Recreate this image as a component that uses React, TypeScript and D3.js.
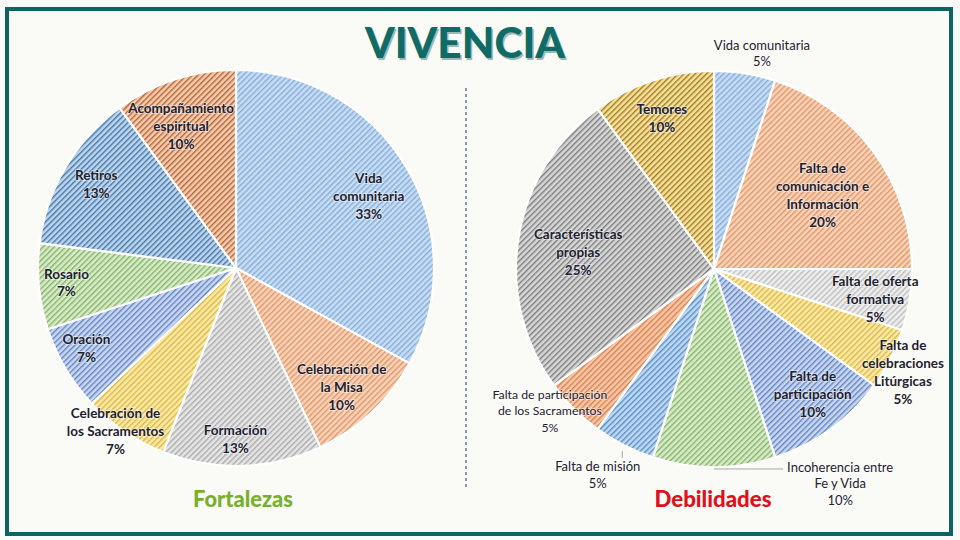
import React from "react";
import * as d3 from "d3";

// Fortalezas (left pie), clockwise from 12 o'clock
const leftLabels = [
  ["Vida", "comunitaria", "33%"],
  ["Celebración de", "la Misa", "10%"],
  ["Formación", "13%"],
  ["Celebración de", "los Sacramentos", "7%"],
  ["Oración", "7%"],
  ["Rosario", "7%"],
  ["Retiros", "13%"],
  ["Acompañamiento", "espiritual", "10%"],
];
const leftValues = [33, 10, 13, 7, 7, 7, 13, 10];

// Debilidades (right pie), clockwise from 12 o'clock
const rightLabels = [
  ["Vida comunitaria", "5%"],
  ["Falta de", "comunicación e", "Información", "20%"],
  ["Falta de oferta", "formativa", "5%"],
  ["Falta de", "celebraciones", "Litúrgicas", "5%"],
  ["Falta de", "participación", "10%"],
  ["Incoherencia entre", "Fe y Vida", "10%"],
  ["Falta de misión", "5%"],
  ["Falta de participación", "de los Sacramentos", "5%"],
  ["Características", "propias", "25%"],
  ["Temores", "10%"],
];
const rightValues = [5, 20, 5, 5, 10, 10, 5, 5, 25, 10];

// hatch colours [background, stripe]
const C = {
  lightBlue: ["#c6ddf4", "#86acda"],
  orange: ["#fad2b6", "#e0966c"],
  gray: ["#e5e5e5", "#ababab"],
  yellow: ["#fdeaa4", "#dcb648"],
  blue: ["#c9d8f1", "#6283c4"],
  green: ["#d8ebc8", "#86b36a"],
  darkBlue: ["#bdd6ef", "#4874a6"],
  brown: ["#f8cbaa", "#b2643f"],
  lightGray: ["#eeeeee", "#bdbdbd"],
  darkGray: ["#d7d7d7", "#7d7d7d"],
  gold: ["#fae197", "#9e7b2c"],
  midBlue: ["#c0d9f2", "#5a8fca"],
  deepOrange: ["#f9c8a5", "#da7f54"],
};
const leftColors = [C.lightBlue, C.orange, C.gray, C.yellow, C.blue, C.green, C.darkBlue, C.brown];
const rightColors = [
  C.lightBlue, C.orange, C.lightGray, C.yellow, C.blue,
  C.green, C.midBlue, C.deepOrange, C.darkGray, C.gold,
];

// label placement: radius factor and angle shift (deg)
const leftLabelK = [0.76, 0.81, 0.87, 1.03, 0.86, 0.86, 0.82, 0.76];
const leftLabelShift = [2.5, 2, 2, 2, 2, 0, 0, -3.4];
const rightLabelK = [1.11, 0.66, 0.83, 1.09, 0.81, 1.263, 1.2, 1.1, 0.69, 0.8];
const rightLabelShift = [3.6, 2.2, 2.2, 1.9, -2, -30.3, 2.3, 3.9, -2.7, -1.2];
const rightOutside = [true, false, false, false, false, true, true, true, false, false];

const W = 960;
const H = 540;
const R = 198;
const FONT = "Lato, 'Open Sans', sans-serif";

type PieProps = {
  id: string;
  cx: number;
  cy: number;
  values: number[];
  labels: string[][];
  colors: string[][];
  labelK: number[];
  labelShift: number[];
  outside?: boolean[];
};

const Pie = ({ id, cx, cy, values, labels, colors, labelK, labelShift, outside }: PieProps) => {
  const pie = d3.pie<number>().sort(null).value(d => d)(values);
  const arc = d3.arc<d3.PieArcDatum<number>>().innerRadius(0).outerRadius(R);

  const polar = (a: number, r: number) => [r * Math.sin(a), -r * Math.cos(a)];

  return (
    <g transform={`translate(${cx},${cy})`}>
      <defs>
        {colors.map((c, i) => (
          <pattern key={i} id={`${id}-p${i}`} width={4} height={4}
            patternUnits="userSpaceOnUse" patternTransform="rotate(45)">
            <rect width={4} height={4} fill={c[0]} />
            <rect width={1.4} height={4} fill={c[1]} />
          </pattern>
        ))}
      </defs>
      {pie.map((d, i) => (
        <path key={i} d={arc(d) || ""} fill={`url(#${id}-p${i})`}
          stroke="#ffffff" strokeWidth={2.2} strokeLinejoin="round" />
      ))}
      {pie.map((d, i) => {
        const mid = (d.startAngle + d.endAngle) / 2;
        const a = mid + (labelShift[i] * Math.PI) / 180;
        const [lx, ly] = polar(a, R * labelK[i]);
        const out = outside ? outside[i] : false;
        const lines = labels[i];
        const small = lines[0].length > 19;
        const fs = out ? (small ? 12.3 : 13) : 13.5;
        const lh = out ? 16.5 : 18;
        const y0 = ly - ((lines.length - 1) * lh) / 2;
        // leader lines for the labels that sit far from their slice
        let leader = null;
        if (out && Math.abs(labelShift[i]) > 10) {
          const [sx, sy] = polar(mid, R * 1.01);
          leader = <line x1={sx} y1={sy} x2={lx - 57} y2={sy}
            stroke="#a6a6a6" strokeWidth={1} />;
        } else if (out && labelK[i] > 1.15) {
          const [sx, sy] = polar(mid, R * 1.02);
          leader = <line x1={sx} y1={sy + 2} x2={sx} y2={y0 - 10}
            stroke="#a6a6a6" strokeWidth={1} />;
        }
        return (
          <g key={`l${i}`}>
            {leader}
            <text textAnchor="middle" fontFamily={FONT} fontSize={fs}
              fontWeight={out ? 400 : 700} fill="#1e2230"
              stroke="rgba(255,255,255,0.45)" strokeWidth={2} paintOrder="stroke">
              {lines.map((t, j) => (
                <tspan key={j} x={lx} y={y0 + j * lh} dominantBaseline="middle">{t}</tspan>
              ))}
            </text>
          </g>
        );
      })}
    </g>
  );
};

export default function App() {
  return (
    <svg width={W} height={H} style={{ position: "absolute", left: 0, top: 0 }}>
      <rect width={W} height={H} fill="#f8faf8" />
      <rect x={7} y={9} width={944} height={525} fill="#fafaf6" stroke="#0e6461" strokeWidth={4} />

      <text x={466.5} y={59.5} textAnchor="middle" fontFamily={FONT} fontSize={42}
        fontWeight={900} fill="#9fb8b6" textLength={200} lengthAdjust="spacingAndGlyphs">VIVENCIA</text>
      <text x={465} y={58} textAnchor="middle" fontFamily={FONT} fontSize={42}
        fontWeight={900} fill="#0f6b66" textLength={200} lengthAdjust="spacingAndGlyphs">VIVENCIA</text>

      <line x1={466} y1={88} x2={466} y2={490} stroke="#1f3864" strokeWidth={1} strokeDasharray="3,3" />

      <Pie id="left" cx={236} cy={268} values={leftValues} labels={leftLabels}
        colors={leftColors} labelK={leftLabelK} labelShift={leftLabelShift} />
      <Pie id="right" cx={714} cy={269} values={rightValues} labels={rightLabels}
        colors={rightColors} labelK={rightLabelK} labelShift={rightLabelShift} outside={rightOutside} />

      <text x={243} y={507} textAnchor="middle" fontFamily={FONT} fontSize={23}
        fontWeight={900} fill="#78b02c" textLength={100} lengthAdjust="spacingAndGlyphs">Fortalezas</text>
      <text x={713} y={507} textAnchor="middle" fontFamily={FONT} fontSize={23}
        fontWeight={900} fill="#e0101a" textLength={117} lengthAdjust="spacingAndGlyphs">Debilidades</text>
    </svg>
  );
}
